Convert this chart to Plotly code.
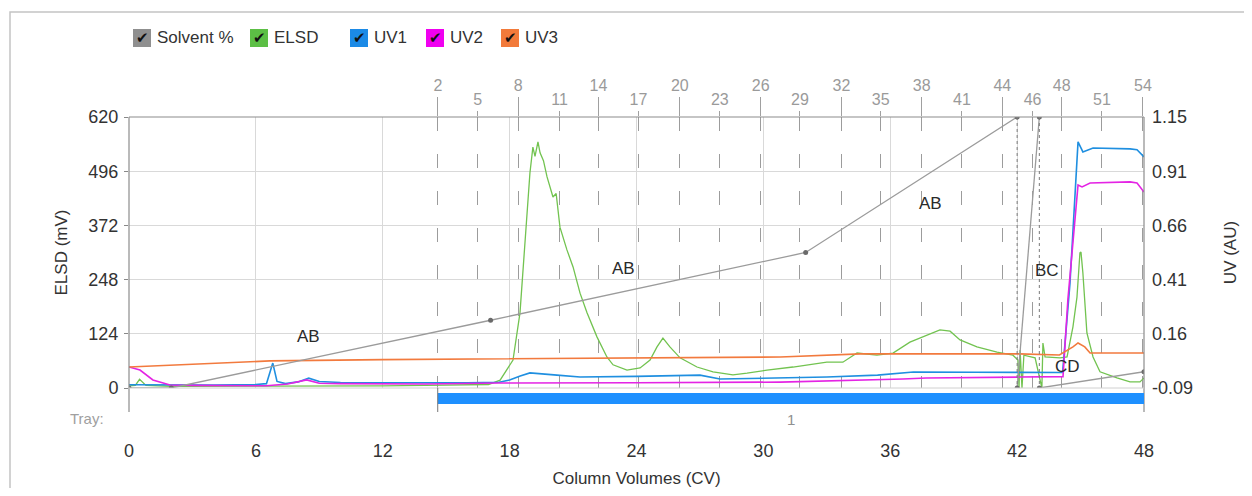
import plotly.graph_objects as go

# ---------------- data ----------------
x_ticks = [0, 6, 12, 18, 24, 30, 36, 42, 48]
elsd_ticks = [0, 124, 248, 372, 496, 620]
uv_tick_labels = ["-0.09", "0.16", "0.41", "0.66", "0.91", "1.15"]
uv_range = [-0.09, 1.15]

# fraction markers (top axis): fraction number and CV position
frac_upper_num = [2, 8, 14, 20, 26, 32, 38, 44, 48, 54]
frac_upper_cv = [14.61, 18.40, 22.20, 26.05, 29.87, 33.69, 37.49, 41.30, 44.11, 47.95]
frac_lower_num = [5, 11, 17, 23, 29, 35, 41, 46, 51]
frac_lower_cv = [16.49, 20.36, 24.09, 27.94, 31.73, 35.55, 39.39, 42.73, 46.01]

# solvent gradient (percent) with segment breaks
solvent_cv = [0, 2.0, 17.1, 32.0, 42.0, None, 42.0, 43.05, None, 43.05, 48.0]
solvent_pct = [0, 0, 25, 50, 100, None, 0, 100, None, 0, 6]
solvent_jump_cv = [42.0, 42.0, None, 43.05, 43.05]
solvent_jump_pct = [100, 0, None, 100, 0]
segment_names = ["AB", "AB", "AB", "BC", "CD"]
segment_cv = [8.5, 23.4, 37.9, 43.4, 44.4]
segment_pct = [19, 44, 68, 43.5, 8]

elsd_cv = [0, 0.3, 0.5, 0.8, 2, 4, 6, 8, 10, 12, 14, 16, 17.0, 17.55, 18.16, 18.49,
           18.82, 18.96, 19.10, 19.2, 19.34, 19.44, 19.6, 19.77, 20.05, 20.2, 20.38,
           20.71, 21.0, 21.33, 21.66, 22.13, 22.6, 22.89, 23.55, 24.17, 24.64, 24.97,
           25.25, 25.58, 26.06, 26.86, 27.62, 28.56, 29.23, 30.17, 31.4, 33.0, 33.76,
           34.43, 35.37, 36.13, 36.93, 37.74, 38.35, 38.83, 39.30, 40.10, 41.05, 41.80,
           42.04, 42.09, 42.14, 42.23, 42.32, 42.85, 43.17, 43.22, 43.32, 44.03, 44.36,
           44.64, 44.83, 44.97, 45.02, 45.11, 45.30, 45.59, 45.92, 46.72, 47.34, 47.81, 48.0]
elsd_mv = [5, 6, 20, 6, 4, 4, 4, 5, 5, 5, 6, 7, 8, 18, 64, 172,
           384, 492, 551, 530, 563, 538, 520, 483, 437, 445, 368,
           316, 277, 217, 172, 117, 71, 53, 41, 46, 64, 94,
           114, 94, 69, 48, 37, 30, 34, 41, 48, 59, 59,
           80, 75, 80, 105, 121, 133, 130, 110, 94, 82, 75,
           64, 0, 87, 0, 75, 69, 0, 103, 71, 69, 71,
           140, 208, 309, 311, 263, 126, 71, 37, 23, 14, 14, 23]

uv1_cv = [0, 1.0, 2.0, 4.0, 6.0, 6.5, 6.8, 7.0, 7.4, 8.0, 8.5, 9.0, 10.0, 12.0, 14.0,
          16.0, 17.5, 18.0, 18.5, 18.96, 20.24, 21.33, 24.0, 27.0, 27.95, 30.8, 33.0,
          35.4, 37.1, 40.0, 44.15, 44.5, 44.74, 44.88, 45.11, 45.59, 47.34, 47.67, 48.0]
uv1_au = [-0.075, -0.076, -0.077, -0.076, -0.074, -0.07, 0.024, -0.06, -0.07, -0.062,
          -0.045, -0.06, -0.065, -0.066, -0.068, -0.066, -0.064, -0.053, -0.035, -0.021,
          -0.031, -0.040, -0.037, -0.031, -0.049, -0.044, -0.040, -0.031, -0.017, -0.018,
          -0.019, 0.39, 0.77, 1.036, 0.99, 1.008, 1.004, 1.0, 0.967]

uv2_cv = [0, 0.52, 1.13, 1.94, 3.0, 5.0, 6.5, 7.5, 8.4, 9.0, 10.0, 14.0, 17.5, 24.0,
          30.8, 36.6, 37.7, 42.1, 44.17, 44.40, 44.74, 44.88, 45.07, 45.45, 47.34, 47.67, 48.0]
uv2_au = [0.006, -0.008, -0.053, -0.076, -0.078, -0.080, -0.080, -0.072, -0.053, -0.068,
          -0.070, -0.072, -0.067, -0.066, -0.063, -0.049, -0.044, -0.040, -0.038, 0.313,
          0.692, 0.839, 0.830, 0.848, 0.853, 0.848, 0.807]

uv3_cv = [0, 2.0, 6.67, 12.0, 17.7, 24.0, 30.8, 34.6, 42.1, 44.0, 44.64, 44.88, 45.2, 45.45, 48.0]
uv3_au = [0.006, 0.015, 0.034, 0.040, 0.043, 0.048, 0.052, 0.066, 0.066, 0.061, 0.098,
          0.116, 0.098, 0.070, 0.070]

tray_start_cv = 14.6
tray_end_cv = 48.0
tray_label = "1"

legend_names = ["Solvent %", "ELSD", "UV1", "UV2", "UV3"]

# ---------------- styling / layout ----------------
OFF = 8                      # page body margin of the html page
W, H = 1236, 480
L, R, T, B = 121, 100, 109, 100
PW = W - L - R
PH = H - T - B
FONT = "Liberation Sans, Arial, sans-serif"
NARROW = "Liberation Sans Narrow, Liberation Sans, Arial, sans-serif"

def px(x):
    """screen x (px) -> paper x"""
    return (x - OFF - L) / PW

def py(y):
    """screen y (px) -> paper y"""
    return (H - B - (y - OFF)) / PH

c_solvent = "#9b9b9b"
c_elsd = "#72c350"
c_uv1 = "#1f8fe0"
c_uv2 = "#e424e4"
c_uv3 = "#f27a3e"

fig = go.Figure()
fig.add_trace(go.Scatter(x=solvent_cv, y=solvent_pct, yaxis="y3", mode="lines+markers",
                         line=dict(color=c_solvent, width=1.3),
                         marker=dict(color="#6a6a6a", size=5),
                         connectgaps=False, name="Solvent %", hoverinfo="skip"))
fig.add_trace(go.Scatter(x=solvent_jump_cv, y=solvent_jump_pct, yaxis="y3", mode="lines",
                         line=dict(color="#7a7a7a", width=1, dash="3px,3px"),
                         connectgaps=False, name="Solvent step", hoverinfo="skip"))
fig.add_trace(go.Scatter(x=elsd_cv, y=elsd_mv, yaxis="y", mode="lines",
                         line=dict(color=c_elsd, width=1.3), name="ELSD"))
fig.add_trace(go.Scatter(x=uv1_cv, y=uv1_au, yaxis="y2", mode="lines",
                         line=dict(color=c_uv1, width=1.6), name="UV1"))
fig.add_trace(go.Scatter(x=uv2_cv, y=uv2_au, yaxis="y2", mode="lines",
                         line=dict(color=c_uv2, width=1.6), name="UV2"))
fig.add_trace(go.Scatter(x=uv3_cv, y=uv3_au, yaxis="y2", mode="lines",
                         line=dict(color=c_uv3, width=1.6), name="UV3"))

uv_step = (uv_range[1] - uv_range[0]) / (len(uv_tick_labels) - 1)
uv_tickvals = [uv_range[0] + k * uv_step for k in range(len(uv_tick_labels))]

top_axis_common = dict(overlaying="x", side="top", anchor="y", range=[0, 48],
                       ticks="outside", tickcolor="#a0a0a0", tickwidth=1,
                       tickfont=dict(family=NARROW, size=16, color="#9a9a9a"),
                       showgrid=True, gridcolor="#9c9c9c", gridwidth=1,
                       griddash="14px,23px", zeroline=False, showline=False,
                       automargin=False)

fig.update_layout(
    width=W, height=H,
    margin=dict(l=L, r=R, t=T, b=B, autoexpand=False),
    paper_bgcolor="white", plot_bgcolor="white",
    showlegend=False,
    font=dict(family=FONT, size=17, color="#333333"),
    xaxis=dict(range=[0, 48], tickvals=x_ticks, ticks="", showgrid=True,
               gridcolor="#d9d9d9", zeroline=False, showline=False,
               tickfont=dict(size=18, color="#333333"), ticklabelstandoff=50,
               title=dict(text="Column Volumes (CV)", font=dict(size=17), standoff=12),
               automargin=False),
    xaxis2=dict(tickvals=frac_upper_cv, ticktext=[str(n) for n in frac_upper_num],
                ticklen=19, **top_axis_common),
    xaxis3=dict(tickvals=frac_lower_cv, ticktext=[str(n) for n in frac_lower_num],
                ticklen=5, **top_axis_common),
    yaxis=dict(range=[0, 620], tickvals=elsd_ticks, showgrid=True, gridcolor="#d9d9d9",
               zeroline=False, showline=False, ticks="outside", ticklen=4,
               tickcolor="#888888", ticklabelstandoff=2,
               tickfont=dict(size=18, color="#333333"),
               title=dict(text="ELSD (mV)", font=dict(size=17), standoff=16),
               automargin=False),
    yaxis2=dict(overlaying="y", side="right", range=uv_range, tickvals=uv_tickvals,
                ticktext=uv_tick_labels, showgrid=False, zeroline=False, showline=False,
                ticks="", ticklabelstandoff=7, tickfont=dict(size=18, color="#333333"),
                title=dict(text="UV (AU)", font=dict(size=17), standoff=32),
                automargin=False),
    yaxis3=dict(overlaying="y", range=[0, 100], visible=False),
)

# make the overlay top axes render (they need a trace each)
fig.add_trace(go.Scatter(x=[None], y=[None], xaxis="x2", showlegend=False, hoverinfo="skip"))
fig.add_trace(go.Scatter(x=[None], y=[None], xaxis="x3", showlegend=False, hoverinfo="skip"))

shapes = []
axis_col = "#8c8c8c"
shapes.append(dict(type="line", xref="paper", yref="paper", x0=0, x1=1, y0=1, y1=1,
                   line=dict(color=axis_col, width=1.2)))
shapes.append(dict(type="line", xref="paper", yref="paper", x0=0, x1=0, y0=py(412), y1=1,
                   line=dict(color=axis_col, width=1.2)))
shapes.append(dict(type="line", xref="paper", yref="paper", x0=1, x1=1, y0=py(412), y1=1,
                   line=dict(color=axis_col, width=1.2)))
shapes.append(dict(type="line", xref="paper", yref="paper", x0=0, x1=1, y0=0, y1=0,
                   line=dict(color="#d0d0d0", width=1)))
# tray row
shapes.append(dict(type="rect", xref="x", yref="paper", x0=tray_start_cv, x1=tray_end_cv,
                   y0=py(404), y1=py(393), fillcolor="#1e90ff", line=dict(width=0)))
shapes.append(dict(type="line", xref="x", yref="paper", x0=tray_start_cv, x1=tray_start_cv,
                   y0=py(412), y1=0, line=dict(color="#777777", width=1)))
# outer panel border
shapes.append(dict(type="rect", xref="paper", yref="paper", x0=px(10), x1=px(1300),
                   y0=py(560), y1=py(12), line=dict(color="#c4c4c4", width=1.5),
                   fillcolor="rgba(0,0,0,0)", layer="below"))

annotations = []
annotations.append(dict(text="Tray:", xref="paper", yref="paper", x=px(106), y=py(418),
                        xanchor="right", yanchor="middle", showarrow=False,
                        font=dict(size=15, color="#a0a0a0")))
annotations.append(dict(text=tray_label, xref="x", yref="paper",
                        x=(tray_start_cv + tray_end_cv) / 2, y=py(419),
                        xanchor="center", yanchor="middle", showarrow=False,
                        font=dict(size=15, color="#909090")))
for name, cv, pct in zip(segment_names, segment_cv, segment_pct):
    annotations.append(dict(text=name, xref="x", yref="y3", x=cv, y=pct, showarrow=False,
                            xanchor="center", yanchor="middle",
                            font=dict(size=17, color="#2a2a2a")))

# checkbox legend
legend_colors = ["#8f8f8f", "#5cbf45", "#1b8ae6", "#f000f0", "#f27a3a"]
legend_box_left = [133, 250, 350, 426, 501]
for name, col, bx in zip(legend_names, legend_colors, legend_box_left):
    shapes.append(dict(type="rect", xref="paper", yref="paper", x0=px(bx), x1=px(bx + 18),
                       y0=py(47), y1=py(29), fillcolor=col, line=dict(width=0)))
    annotations.append(dict(text="✔", xref="paper", yref="paper", x=px(bx + 9), y=py(38),
                            xanchor="center", yanchor="middle", showarrow=False,
                            font=dict(size=15, color="#111111")))
    annotations.append(dict(text=name, xref="paper", yref="paper", x=px(bx + 22), y=py(38),
                            xanchor="left", yanchor="middle", showarrow=False,
                            font=dict(size=17, color="#333333")))

fig.update_layout(shapes=shapes, annotations=annotations)
fig.write_html("out.html")
